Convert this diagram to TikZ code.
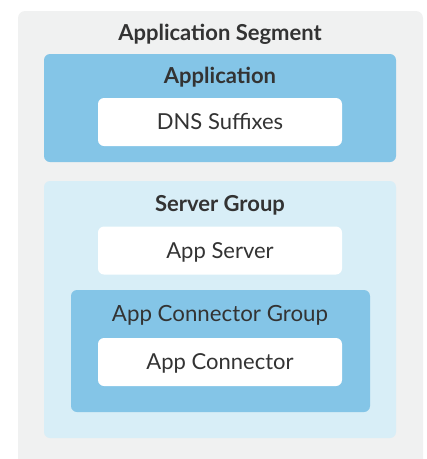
\documentclass[tikz,border=0pt]{standalone}
\usepackage{fontspec}
\setmainfont{Lato}
\definecolor{segbg}{HTML}{F0F1F1}
\definecolor{appblue}{HTML}{84C5E7}
\definecolor{grpblue}{HTML}{D8EEF7}
\definecolor{txtgray}{HTML}{333333}
\tikzset{
  itembox/.style={fill=white, rounded corners=6pt, minimum width=244pt, minimum height=48pt, inner sep=0pt,
    text height=15.8pt, text depth=0pt, text=txtgray, font=\fontsize{22}{24}\selectfont},
  title/.style={anchor=base, text=txtgray, font=\fontsize{22}{24}\selectfont\bfseries, inner sep=0pt},
  subtitle/.style={anchor=base, text=txtgray, font=\fontsize{22.3}{24}\selectfont, inner sep=0pt}
}
\begin{document}
\begin{tikzpicture}[x=1pt,y=-1pt]
  \clip (0,0) rectangle (427,459);
  % 外层：Application Segment
  \fill[segbg, rounded corners=7pt] (18,11) rectangle (423,480);
  \node[title] (segtitle) at (220,40) {Application Segment};
  % Application
  \fill[appblue, rounded corners=6pt] (44,54) rectangle (396,162);
  \node[title] (apptitle) at (220,83) {Application};
  \node[itembox] (dns) at (220,122) {DNS Suffixes};
  % Server Group
  \fill[grpblue, rounded corners=6pt] (44,181) rectangle (396,438);
  \node[title] (srvtitle) at (220,211) {Server Group};
  \node[itembox] (appsrv) at (220,250.5) {App Server};
  % App Connector Group
  \fill[appblue, rounded corners=6pt] (71,290) rectangle (370,412);
  \node[subtitle] (conntitle) at (220,321) {App Connector Group};
  \node[itembox] (conn) at (220,362) {App Connector};
\end{tikzpicture}
\end{document}
